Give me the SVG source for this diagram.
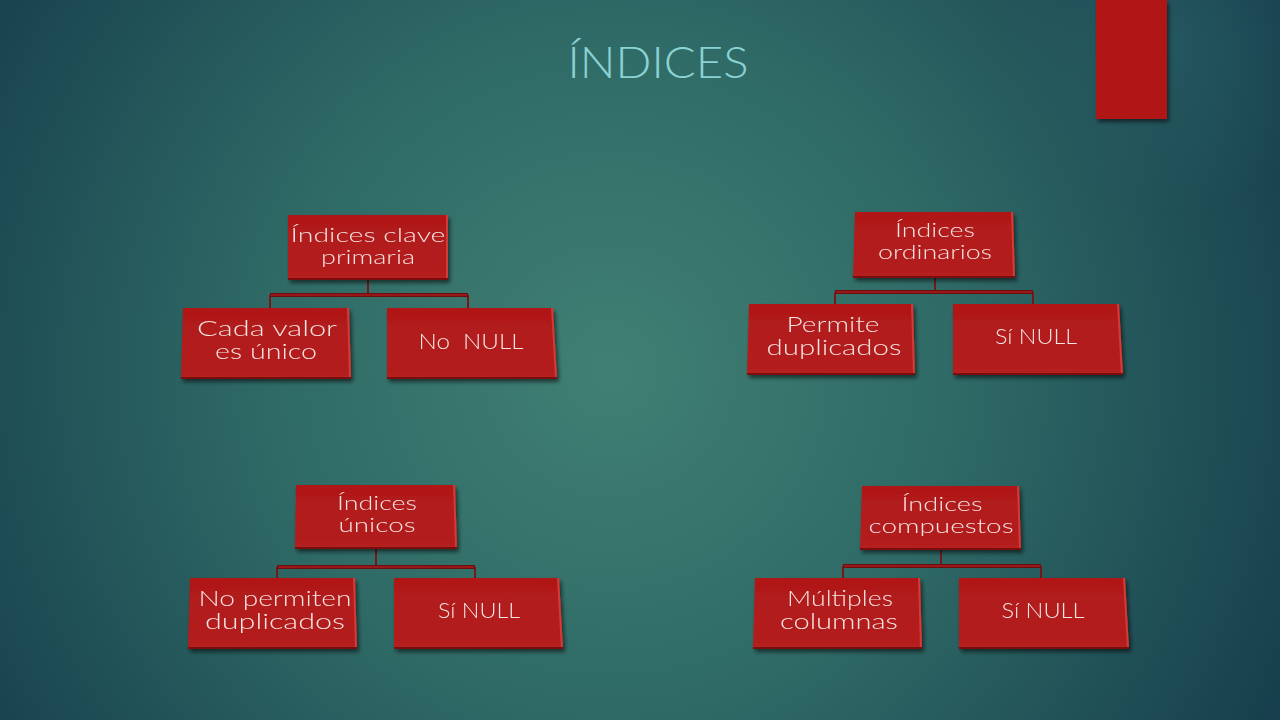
<svg xmlns="http://www.w3.org/2000/svg" width="1280" height="720" viewBox="0 0 1280 720">
  <defs>
    <radialGradient id="bg" cx="610" cy="370" r="760" gradientUnits="userSpaceOnUse">
      <stop offset="0" stop-color="#408074"/>
      <stop offset="0.45" stop-color="#2f6a66"/>
      <stop offset="1" stop-color="#163e4c"/>
    </radialGradient>
    <radialGradient id="glow" cx="1170" cy="40" r="170" gradientUnits="userSpaceOnUse">
      <stop offset="0" stop-color="#2a6068" stop-opacity="0.6"/>
      <stop offset="1" stop-color="#2a6068" stop-opacity="0"/>
    </radialGradient>
    <linearGradient id="boxFill" x1="0" y1="0" x2="0" y2="1">
      <stop offset="0" stop-color="#b01818"/>
      <stop offset="1" stop-color="#b42020"/>
    </linearGradient>
    <filter id="shadow" x="-10%" y="-10%" width="125%" height="135%">
      <feGaussianBlur in="SourceAlpha" stdDeviation="2.2"/>
      <feOffset dx="1.5" dy="3" result="b"/>
      <feComponentTransfer><feFuncA type="linear" slope="0.55"/></feComponentTransfer>
      <feMerge><feMergeNode/><feMergeNode in="SourceGraphic"/></feMerge>
    </filter>
    <style>
      .box { fill: url(#boxFill); }
      .edgeR { fill: #d43a36; }
      .edgeB { fill: #7c1010; }
      .lbl { font-family: "Lato", "Open Sans", "DejaVu Sans", sans-serif; font-weight: 300; font-size: 21px; fill: #f6e4e2; text-anchor: middle; }
      .hd { font-size: 19px; }
      .title { font-family: "Lato", "Open Sans", sans-serif; font-weight: 300; font-size: 44px; fill: #8ad2d4; text-anchor: middle; }
      .conn { fill: none; stroke: #6c0e0e; stroke-width: 4; }
      .connIn { fill: none; stroke: #a51c1c; stroke-width: 1.4; }
      .connV { fill: none; stroke: #7a1212; stroke-width: 1.8; }
    </style>
  </defs>

  <!-- backdrop -->
  <rect x="0" y="0" width="1280" height="720" fill="url(#bg)"/>
  <rect x="0" y="0" width="1280" height="720" fill="url(#glow)"/>

  <!-- red corner tab -->
  <rect x="1096" y="0" width="71" height="119" fill="#b01717" filter="url(#shadow)"/>

  <text class="title" x="658" y="78" textLength="181" lengthAdjust="spacingAndGlyphs">ÍNDICES</text>

  <!-- connectors -->
  <g id="connectors">
    <path class="connV" d="M368 280 V295 M270 295 V308 M468 295 V308"/>
    <path class="conn" d="M270 295 H468"/>
    <path class="connIn" d="M271 295 H467"/>

    <path class="connV" d="M935 278 V292 M835 292 V304 M1033 292 V304"/>
    <path class="conn" d="M835 292 H1033"/>
    <path class="connIn" d="M836 292 H1032"/>

    <path class="connV" d="M376 549 V567 M277 567 V578 M475 567 V578"/>
    <path class="conn" d="M277 567 H475"/>
    <path class="connIn" d="M278 567 H474"/>

    <path class="connV" d="M941 550 V566 M843 566 V578 M1041 566 V578"/>
    <path class="conn" d="M843 566 H1041"/>
    <path class="connIn" d="M844 566 H1040"/>
  </g>

  <!-- tree 1 -->
  <g id="n-clave-primaria" filter="url(#shadow)">
    <rect class="box" x="288" y="215" width="160" height="65"/>
    <rect class="edgeR" x="446" y="215" width="2" height="65"/>
    <rect class="edgeB" x="288" y="278" width="160" height="2"/>
    <text class="lbl hd" x="368" y="242" textLength="155" lengthAdjust="spacingAndGlyphs">Índices clave</text>
    <text class="lbl hd" x="368" y="264" textLength="94" lengthAdjust="spacingAndGlyphs">primaria</text>
  </g>
  <g id="n-cada-valor" filter="url(#shadow)">
    <path class="box" d="M183 308 H349 L351 379 H181 Z"/>
    <path class="edgeR" d="M347 308 H349 L351 379 H349 Z"/>
    <rect class="edgeB" x="181" y="377" width="170" height="2"/>
    <text class="lbl" x="267" y="336" textLength="140" lengthAdjust="spacingAndGlyphs">Cada valor</text>
    <text class="lbl" x="266" y="359" textLength="102" lengthAdjust="spacingAndGlyphs">es único</text>
  </g>
  <g id="n-no-null" filter="url(#shadow)">
    <path class="box" d="M387 308 H553 L557 379 H387 Z"/>
    <path class="edgeR" d="M551 308 H553 L557 379 H555 Z"/>
    <rect class="edgeB" x="387" y="377" width="170" height="2"/>
    <text class="lbl" x="471" y="349" xml:space="preserve" textLength="105" lengthAdjust="spacingAndGlyphs">No  NULL</text>
  </g>

  <!-- tree 2 -->
  <g id="n-ordinarios" filter="url(#shadow)">
    <path class="box" d="M855 212 H1013 L1015 278 H853 Z"/>
    <path class="edgeR" d="M1011 212 H1013 L1015 278 H1013 Z"/>
    <rect class="edgeB" x="853" y="276" width="162" height="2"/>
    <text class="lbl hd" x="935" y="237" textLength="80" lengthAdjust="spacingAndGlyphs">Índices</text>
    <text class="lbl hd" x="935" y="259" textLength="114" lengthAdjust="spacingAndGlyphs">ordinarios</text>
  </g>
  <g id="n-permite-dup" filter="url(#shadow)">
    <path class="box" d="M749 304 H913 L915 375 H747 Z"/>
    <path class="edgeR" d="M911 304 H913 L915 375 H913 Z"/>
    <rect class="edgeB" x="747" y="373" width="168" height="2"/>
    <text class="lbl" x="833" y="332" textLength="93" lengthAdjust="spacingAndGlyphs">Permite</text>
    <text class="lbl" x="834" y="355" textLength="135" lengthAdjust="spacingAndGlyphs">duplicados</text>
  </g>
  <g id="n-si-null-1" filter="url(#shadow)">
    <path class="box" d="M953 304 H1119 L1123 375 H953 Z"/>
    <path class="edgeR" d="M1117 304 H1119 L1123 375 H1121 Z"/>
    <rect class="edgeB" x="953" y="373" width="170" height="2"/>
    <text class="lbl" x="1036" y="344" textLength="82" lengthAdjust="spacingAndGlyphs">Sí NULL</text>
  </g>

  <!-- tree 3 -->
  <g id="n-unicos" filter="url(#shadow)">
    <path class="box" d="M296 485 H455 L457 549 H295 Z"/>
    <path class="edgeR" d="M453 485 H455 L457 549 H455 Z"/>
    <rect class="edgeB" x="295" y="547" width="162" height="2"/>
    <text class="lbl hd" x="377" y="510" textLength="80" lengthAdjust="spacingAndGlyphs">Índices</text>
    <text class="lbl hd" x="377" y="532" textLength="77" lengthAdjust="spacingAndGlyphs">únicos</text>
  </g>
  <g id="n-no-permiten" filter="url(#shadow)">
    <path class="box" d="M190 578 H355 L357 649 H188 Z"/>
    <path class="edgeR" d="M353 578 H355 L357 649 H355 Z"/>
    <rect class="edgeB" x="188" y="647" width="169" height="2"/>
    <text class="lbl" x="275" y="606" textLength="153" lengthAdjust="spacingAndGlyphs">No permiten</text>
    <text class="lbl" x="275" y="629" textLength="140" lengthAdjust="spacingAndGlyphs">duplicados</text>
  </g>
  <g id="n-si-null-2" filter="url(#shadow)">
    <path class="box" d="M394 578 H559 L563 649 H394 Z"/>
    <path class="edgeR" d="M557 578 H559 L563 649 H561 Z"/>
    <rect class="edgeB" x="394" y="647" width="169" height="2"/>
    <text class="lbl" x="479" y="618" textLength="82" lengthAdjust="spacingAndGlyphs">Sí NULL</text>
  </g>

  <!-- tree 4 -->
  <g id="n-compuestos" filter="url(#shadow)">
    <path class="box" d="M862 486 H1019 L1021 550 H860 Z"/>
    <path class="edgeR" d="M1017 486 H1019 L1021 550 H1019 Z"/>
    <rect class="edgeB" x="860" y="548" width="161" height="2"/>
    <text class="lbl hd" x="942" y="511" textLength="81" lengthAdjust="spacingAndGlyphs">Índices</text>
    <text class="lbl hd" x="941" y="533" textLength="145" lengthAdjust="spacingAndGlyphs">compuestos</text>
  </g>
  <g id="n-multiples" filter="url(#shadow)">
    <path class="box" d="M755 578 H920 L922 649 H753 Z"/>
    <path class="edgeR" d="M918 578 H920 L922 649 H920 Z"/>
    <rect class="edgeB" x="753" y="647" width="169" height="2"/>
    <text class="lbl" x="840" y="606" textLength="106" lengthAdjust="spacingAndGlyphs">Múltiples</text>
    <text class="lbl" x="839" y="629" textLength="118" lengthAdjust="spacingAndGlyphs">columnas</text>
  </g>
  <g id="n-si-null-3" filter="url(#shadow)">
    <path class="box" d="M959 578 H1125 L1129 649 H959 Z"/>
    <path class="edgeR" d="M1123 578 H1125 L1129 649 H1127 Z"/>
    <rect class="edgeB" x="959" y="647" width="170" height="2"/>
    <text class="lbl" x="1043" y="618" textLength="83" lengthAdjust="spacingAndGlyphs">Sí NULL</text>
  </g>
</svg>
